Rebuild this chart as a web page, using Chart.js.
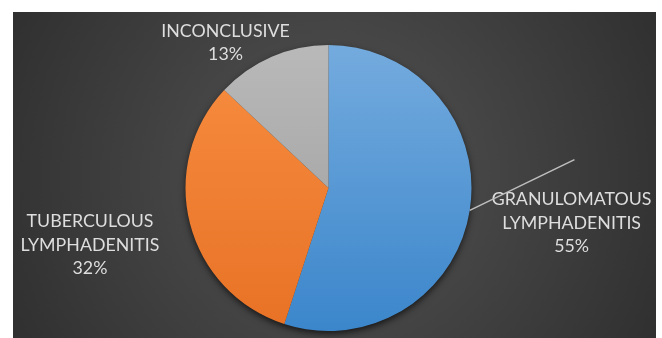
<!DOCTYPE html>
<html>
<head>
<meta charset="utf-8">
<script src="https://cdn.jsdelivr.net/npm/chart.js@4.4.1/dist/chart.umd.min.js"></script>
<style>
  html, body { margin: 0; padding: 0; background: #fff; }
  #wrap { position: absolute; left: 13px; top: 12px; width: 643px; height: 326px; }
</style>
</head>
<body>
<div id="wrap"><canvas id="pie"></canvas></div>
<script>
const categorias = [['GRANULOMATOUS', 'LYMPHADENITIS'], ['TUBERCULOUS', 'LYMPHADENITIS'], ['INCONCLUSIVE']];
const valores = [55, 32, 13];
const coresTopo = ['#74abde', '#f78d40', '#b9b9b9'];
const coresBase = ['#3b86cb', '#e87226', '#9b9b9b'];

// where each label block sits, relative to the pie centre, in radius units
const posRotulos = [[1.70, 0.245], [-1.668, 0.40], [-0.72, -1.014]];
const alturaLinha = 23.5;

function corGradiente(ctx) {
  const chart = ctx.chart;
  const area = chart.chartArea;
  const i = ctx.dataIndex;
  if (!area) return coresTopo[i];
  const g = chart.ctx.createLinearGradient(0, area.top, 0, area.bottom);
  g.addColorStop(0, coresTopo[i]);
  g.addColorStop(1, coresBase[i]);
  return g;
}

const fundo = {
  id: 'fundo',
  beforeDraw(chart) {
    const { ctx, width, height } = chart;
    const g = ctx.createRadialGradient(width * 0.5, height * 0.5, 0, width * 0.5, height * 0.5, width * 0.62);
    g.addColorStop(0, '#545454');
    g.addColorStop(1, '#2c2c2c');
    ctx.save();
    ctx.fillStyle = g;
    ctx.fillRect(0, 0, width, height);
    ctx.restore();
  }
};

const sombra = {
  id: 'sombra',
  beforeDatasetsDraw(chart) {
    const arco = chart.getDatasetMeta(0).data[0];
    if (!arco) return;
    const ctx = chart.ctx;
    ctx.save();
    ctx.shadowColor = 'rgba(0,0,0,0.7)';
    ctx.shadowBlur = 7;
    ctx.shadowOffsetY = 3;
    ctx.fillStyle = '#3a3a3a';
    ctx.beginPath();
    ctx.arc(arco.x, arco.y, arco.outerRadius - 0.5, 0, Math.PI * 2);
    ctx.fill();
    ctx.restore();
  }
};

const rotulos = {
  id: 'rotulos',
  afterDatasetsDraw(chart) {
    const meta = chart.getDatasetMeta(0);
    const ctx = chart.ctx;
    const total = valores.reduce((a, b) => a + b, 0);
    ctx.save();
    ctx.font = '17.8px Lato';
    ctx.fillStyle = '#dedede';
    ctx.textAlign = 'center';
    ctx.textBaseline = 'middle';
    meta.data.forEach((arco, i) => {
      const r = arco.outerRadius;
      const cx = arco.x + posRotulos[i][0] * r;
      const cy = arco.y + posRotulos[i][1] * r;
      const linhas = categorias[i].concat([Math.round(valores[i] / total * 100) + '%']);
      linhas.forEach((t, k) => {
        ctx.fillText(t, cx, cy + (k - (linhas.length - 1) / 2) * alturaLinha);
      });
      if (i === 0) {
        // leader line from the slice edge up towards the label
        const meio = (arco.startAngle + arco.endAngle) / 2;
        ctx.strokeStyle = '#bfbfbf';
        ctx.lineWidth = 1.5;
        ctx.beginPath();
        ctx.moveTo(arco.x + Math.cos(meio) * r, arco.y + Math.sin(meio) * r);
        ctx.lineTo(cx + 0.02 * r, cy - 2.7 * alturaLinha);
        ctx.stroke();
      }
    });
    ctx.restore();
  }
};

new Chart(document.getElementById('pie'), {
  type: 'pie',
  data: {
    labels: categorias.map(c => c.join(' ')),
    datasets: [{
      data: valores,
      backgroundColor: corGradiente,
      borderWidth: 0,
      hoverOffset: 0
    }]
  },
  options: {
    responsive: true,
    maintainAspectRatio: false,
    animation: false,
    layout: { padding: { left: 0, right: 12, top: 33, bottom: 7 } },
    plugins: {
      legend: { display: false },
      tooltip: { enabled: false }
    }
  },
  plugins: [fundo, sombra, rotulos]
});
</script>
</body>
</html>
